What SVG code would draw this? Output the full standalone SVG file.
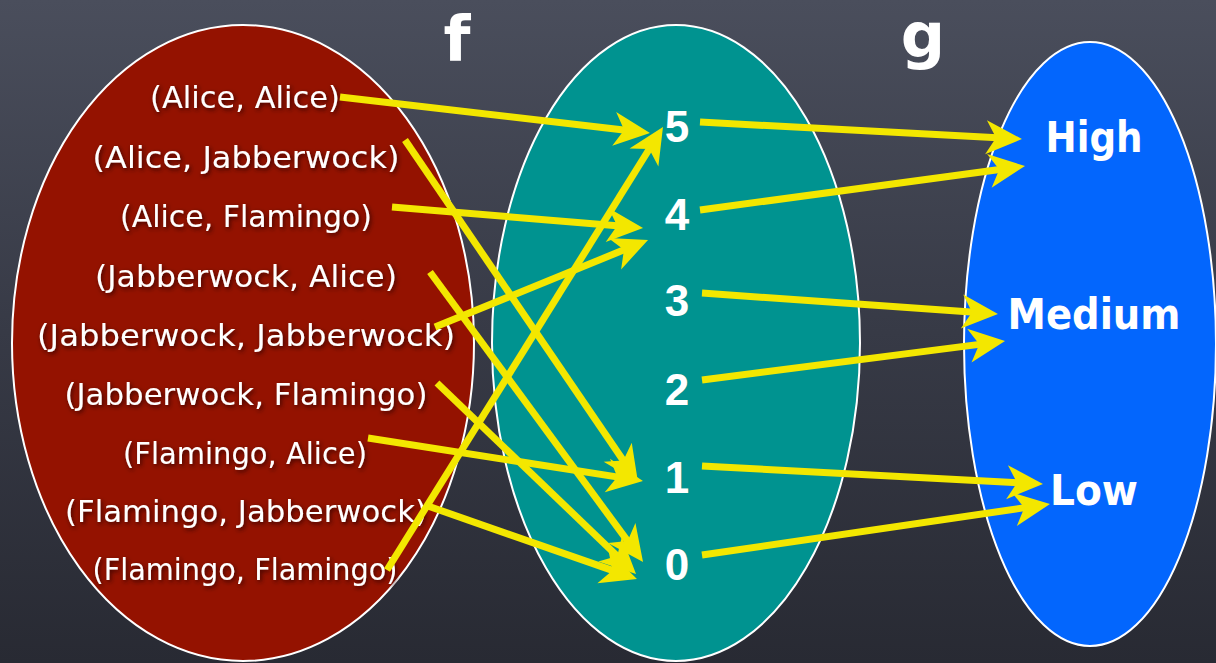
<svg xmlns="http://www.w3.org/2000/svg" width="1216" height="663" viewBox="0 0 1216 663">
<defs>
<linearGradient id="bg" x1="0" y1="0" x2="0" y2="1">
<stop offset="0" stop-color="#4a4e5c"/>
<stop offset="0.5" stop-color="#373a46"/>
<stop offset="1" stop-color="#282a33"/>
</linearGradient>
<filter id="sh" x="-10%" y="-30%" width="120%" height="160%">
<feDropShadow dx="1.5" dy="2" stdDeviation="2" flood-color="#2a0000" flood-opacity="0.85"/>
</filter>
<marker id="ah" markerUnits="userSpaceOnUse" markerWidth="60" markerHeight="40" refX="0" refY="0" orient="auto" overflow="visible">
<path d="M20,0 L-16,-17 L-6,0 L-16,17 Z" fill="#f3e700"/>
</marker>
<style>
.set{stroke:#ffffff;stroke-width:2}
.lbl{font-family:"DejaVu Sans","Noto Sans",sans-serif;font-size:31px;fill:#ffffff;text-anchor:middle;filter:url(#sh)}
.num{font-family:"Liberation Sans","Noto Sans",sans-serif;font-weight:bold;font-size:44px;fill:#ffffff;text-anchor:middle}
.cod{font-family:"DejaVu Sans","Noto Sans",sans-serif;font-weight:bold;font-size:42px;fill:#ffffff;text-anchor:middle}
.fn{font-family:"DejaVu Sans","Noto Sans",sans-serif;font-weight:bold;font-size:62px;fill:#ffffff;text-anchor:middle}
.ar{stroke:#f3e700;stroke-width:7;fill:none;marker-end:url(#ah)}
</style>
</defs>
<rect width="1216" height="663" fill="url(#bg)"/>

<g id="fn-labels">
<text class="fn" x="457" y="60">f</text>
<text class="fn" x="923" y="57">g</text>
</g>

<g id="domain">
<ellipse class="set" cx="243" cy="343" rx="231" ry="318" fill="#941200"/>
<text class="lbl" x="245" y="108" textLength="190" lengthAdjust="spacingAndGlyphs">(Alice, Alice)</text>
<text class="lbl" x="246" y="168" textLength="307" lengthAdjust="spacingAndGlyphs">(Alice, Jabberwock)</text>
<text class="lbl" x="246" y="227" textLength="252" lengthAdjust="spacingAndGlyphs">(Alice, Flamingo)</text>
<text class="lbl" x="246" y="287" textLength="302" lengthAdjust="spacingAndGlyphs">(Jabberwock, Alice)</text>
<text class="lbl" x="246" y="346" textLength="418" lengthAdjust="spacingAndGlyphs">(Jabberwock, Jabberwock)</text>
<text class="lbl" x="246" y="405" textLength="363" lengthAdjust="spacingAndGlyphs">(Jabberwock, Flamingo)</text>
<text class="lbl" x="245" y="464" textLength="244" lengthAdjust="spacingAndGlyphs">(Flamingo, Alice)</text>
<text class="lbl" x="246" y="522" textLength="362" lengthAdjust="spacingAndGlyphs">(Flamingo, Jabberwock)</text>
<text class="lbl" x="245" y="580" textLength="305" lengthAdjust="spacingAndGlyphs">(Flamingo, Flamingo)</text>
</g>

<g id="middle">
<ellipse class="set" cx="676" cy="343" rx="184" ry="318" fill="#009390"/>
<text class="num" x="677" y="142">5</text>
<text class="num" x="677" y="230">4</text>
<text class="num" x="677" y="316">3</text>
<text class="num" x="677" y="405">2</text>
<text class="num" x="677" y="493">1</text>
<text class="num" x="677" y="580">0</text>
</g>

<g id="codomain">
<ellipse class="set" cx="1090" cy="344" rx="126" ry="302" fill="#0366fd"/>
<text class="cod" x="1094" y="152" textLength="97" lengthAdjust="spacingAndGlyphs">High</text>
<text class="cod" x="1094" y="329" textLength="173" lengthAdjust="spacingAndGlyphs">Medium</text>
<text class="cod" x="1094" y="505" textLength="88" lengthAdjust="spacingAndGlyphs">Low</text>
</g>

<g id="connectors">
<line class="ar" x1="340" y1="97" x2="630.1" y2="130.7"/>
<line class="ar" x1="405" y1="140" x2="626.7" y2="465.5"/>
<line class="ar" x1="392" y1="207" x2="623.1" y2="226.3"/>
<line class="ar" x1="430" y1="272" x2="631.2" y2="545.9"/>
<line class="ar" x1="435" y1="327" x2="629.5" y2="247.6"/>
<line class="ar" x1="437" y1="383" x2="621.6" y2="560.2"/>
<line class="ar" x1="368" y1="438" x2="623.2" y2="477.9"/>
<line class="ar" x1="425" y1="505" x2="618.1" y2="572.4"/>
<line class="ar" x1="387" y1="570" x2="652.4" y2="144"/>
<line class="ar" x1="700" y1="122" x2="1002" y2="138"/>
<line class="ar" x1="700" y1="210" x2="1005.2" y2="168.7"/>
<line class="ar" x1="702" y1="293" x2="978" y2="312.6"/>
<line class="ar" x1="702" y1="380" x2="985.2" y2="343.6"/>
<line class="ar" x1="702" y1="466" x2="1023" y2="483"/>
<line class="ar" x1="702" y1="555" x2="1030.2" y2="506.9"/>
</g>
</svg>
